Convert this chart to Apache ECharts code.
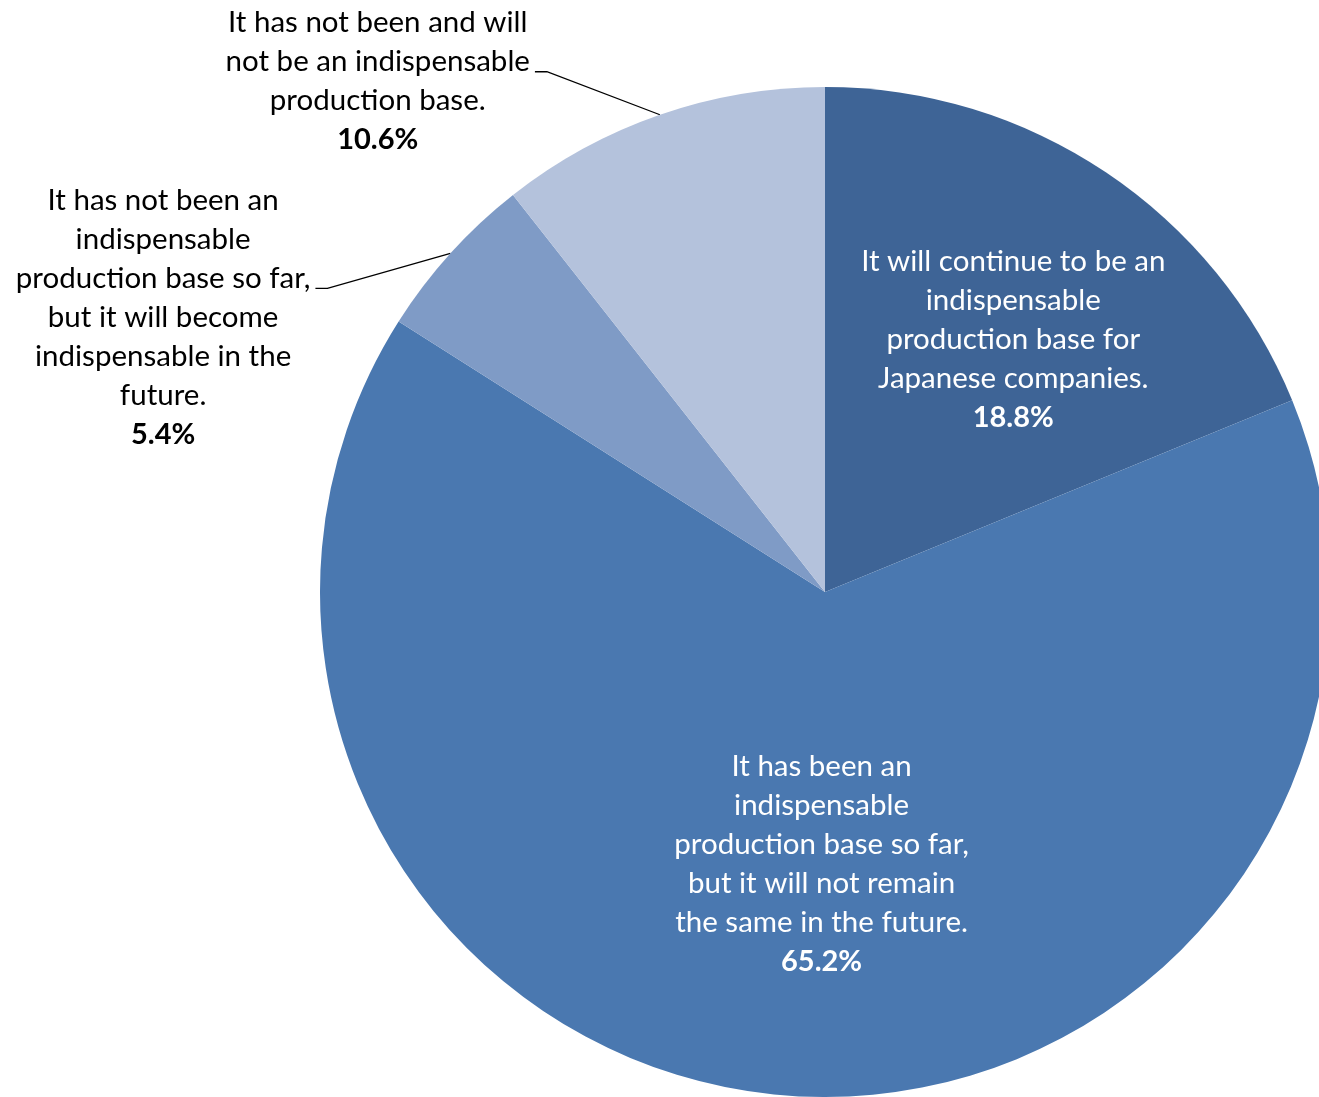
<!DOCTYPE html>
<html><head><meta charset="utf-8">
<script src="https://cdn.jsdelivr.net/npm/echarts@6/dist/echarts.min.js"></script>
<style>html,body{margin:0;padding:0;background:#fff}#c{width:1319px;height:1097px}</style>
</head><body><div id="c"></div>
<script>
const categories = [
  'It will continue to be an\nindispensable\nproduction base for\nJapanese companies.',
  'It has been an\nindispensable\nproduction base so far,\nbut it will not remain\nthe same in the future.',
  'It has not been an\nindispensable\nproduction base so far,\nbut it will become\nindispensable in the\nfuture.',
  'It has not been and will\nnot be an indispensable\nproduction base.'
];
const values = [18.8, 65.2, 5.4, 10.6];
const colors = ['#3E6496', '#4A78B0', '#7F9BC6', '#B4C2DC'];
const labelInside = [true, true, false, false];
const insideShift = [[46, -40], [19, 18], null, null];
const outsidePadding = [null, null, [129, 0, 0, 0], [0, 0, 67, 0]];
const outsideLen2 = [0, 0, 135, 125];
const outsideBend = [0, 0, 35, -43];

const FONT = 'Lato';
function richFor(color) {
  return {
    t: {fontFamily: FONT, fontSize: 29.5, lineHeight: 39, color: color, align: 'center'},
    p: {fontFamily: FONT, fontSize: 29, lineHeight: 39, color: color, fontWeight: 'bold', align: 'center'}
  };
}

const data = values.map((v, i) => {
  const item = {name: categories[i], value: v, itemStyle: {color: colors[i]}};
  if (labelInside[i]) {
    item.label = {position: 'inside', rich: richFor('#ffffff')};
    item.labelLine = {show: false};
  } else {
    item.label = {position: 'outside', rich: richFor('#000000'), padding: outsidePadding[i], distanceToLabelLine: 5};
    item.labelLine = {show: true, length: 0, length2: outsideLen2[i], smooth: false,
      lineStyle: {color: '#000000', width: 1.3}};
  }
  return item;
});

const chart = echarts.init(document.getElementById('c'), null, {renderer: 'canvas'});
chart.setOption({
  backgroundColor: '#ffffff',
  animation: false,
  series: [{
    type: 'pie',
    left: 0, top: 0, width: 1319, height: 1097,
    center: [825, 592],
    radius: 505,
    startAngle: 90,
    clockwise: true,
    avoidLabelOverlap: false,
    itemStyle: {borderWidth: 0},
    emphasis: {disabled: true},
    label: {
      show: true,
      formatter: p => '{t|' + p.name + '}\n{p|' + p.value.toFixed(1) + '%}'
    },
    labelLayout: function (p) {
      const i = p.dataIndex;
      if (labelInside[i]) {
        const r = p.labelRect;
        return {x: r.x + r.width / 2 + insideShift[i][0], y: r.y + r.height / 2 + insideShift[i][1],
          align: 'center', verticalAlign: 'middle'};
      }
      const pts = p.labelLinePoints;
      if (!pts) return {};
      const a = pts[0], e = pts[2];
      const b = outsideBend[i];
      return {labelLinePoints: [[a[0], a[1]], [e[0] + 12, e[1] + b], [e[0], e[1] + b]]};
    },
    data: data
  }]
});
</script>
</body></html>
